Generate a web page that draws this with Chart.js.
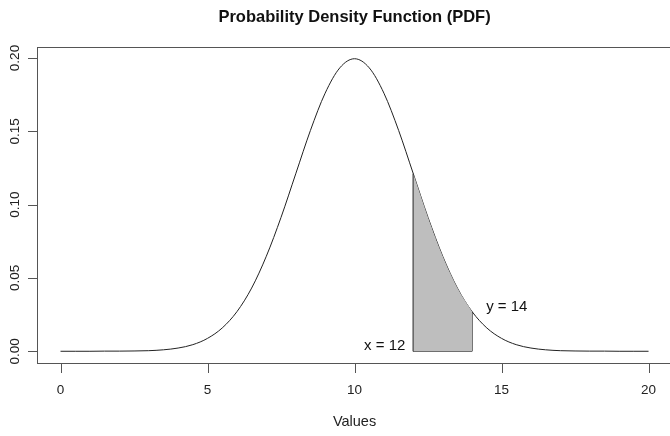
<!DOCTYPE html>
<html>
<head>
<meta charset="utf-8">
<script src="https://cdn.jsdelivr.net/npm/chart.js@4.4.1/dist/chart.umd.min.js"></script>
<style>
  html, body { margin: 0; padding: 0; background: #fff; }
  #wrap { width: 670px; height: 436px; }
</style>
</head>
<body>
<div id="wrap"><canvas id="pdf"></canvas></div>
<script>
// density values, x = 0, 0.5, ..., 20
const xValues = [
  0, 0.5, 1, 1.5, 2, 2.5, 3, 3.5, 4, 4.5, 5, 5.5, 6, 6.5, 7, 7.5, 8, 8.5, 9, 9.5,
  10, 10.5, 11, 11.5, 12, 12.5, 13, 13.5, 14, 14.5, 15, 15.5, 16, 16.5, 17, 17.5, 18, 18.5, 19, 19.5, 20
];
const density = [
  0.0000, 0.0000, 0.0000, 0.0001, 0.0001, 0.0002, 0.0004, 0.0010, 0.0022, 0.0045,
  0.0088, 0.0159, 0.0270, 0.0431, 0.0648, 0.0913, 0.1210, 0.1506, 0.1760, 0.1933,
  0.1995,
  0.1933, 0.1760, 0.1506, 0.1210, 0.0913, 0.0648, 0.0431, 0.0270, 0.0159, 0.0088,
  0.0045, 0.0022, 0.0010, 0.0004, 0.0002, 0.0001, 0.0001, 0.0000, 0.0000, 0.0000
];
const shadeFrom = 12;
const shadeTo = 14;
const xTicks = [0, 5, 10, 15, 20];
const yTicks = [0, 0.05, 0.10, 0.15, 0.20];
const yTickLabels = ['0.00', '0.05', '0.10', '0.15', '0.20'];
const titleText = 'Probability Density Function (PDF)';
const xTitle = 'Values';
const markLabels = [
  { text: 'x = 12', x: 12, y: 0 },
  { text: 'y = 14', x: 14, y: 0.027 }
];

const curve = xValues.map((x, i) => ({ x: x, y: density[i] }));
const shaded = curve.filter(p => p.x >= shadeFrom && p.x <= shadeTo);
const edgeAt = (x) => curve.find(p => p.x === x).y;
const shadeEdges = [
  { x: shadeFrom, y: edgeAt(shadeFrom) },
  { x: shadeFrom, y: 0 },
  { x: shadeTo, y: 0 },
  { x: shadeTo, y: edgeAt(shadeTo) }
];

const FONT = '"Liberation Sans", Arial, Helvetica, sans-serif';

// R-style box, axes and text
const rAxes = {
  id: 'rAxes',
  afterDraw(chart) {
    const { ctx, chartArea: a, scales: { x, y } } = chart;
    ctx.save();
    ctx.strokeStyle = '#555';
    ctx.lineWidth = 1;
    ctx.strokeRect(a.left + 0.5, a.top + 0.5, a.right - a.left + 2, a.bottom - a.top);

    // x axis ticks
    ctx.beginPath();
    xTicks.forEach(v => {
      const px = Math.round(x.getPixelForValue(v)) + 0.5;
      ctx.moveTo(px, a.bottom);
      ctx.lineTo(px, a.bottom + 10);
    });
    // y axis ticks
    yTicks.forEach(v => {
      const py = Math.round(y.getPixelForValue(v)) + 0.5;
      ctx.moveTo(a.left, py);
      ctx.lineTo(a.left - 9, py);
    });
    ctx.stroke();

    ctx.fillStyle = '#222';
    ctx.font = '13.5px ' + FONT;
    ctx.textAlign = 'center';
    ctx.textBaseline = 'middle';
    xTicks.forEach(v => {
      ctx.fillText(String(v), x.getPixelForValue(v), a.bottom + 27);
    });
    yTicks.forEach((v, i) => {
      ctx.save();
      ctx.translate(15, y.getPixelForValue(v));
      ctx.rotate(-Math.PI / 2);
      ctx.fillText(yTickLabels[i], 0, 0);
      ctx.restore();
    });

    ctx.font = '14.5px ' + FONT;
    ctx.fillText(xTitle, x.getPixelForValue(10), 422);

    ctx.font = 'bold 16.5px ' + FONT;
    ctx.fillStyle = '#111';
    ctx.fillText(titleText, x.getPixelForValue(10), 17);

    // labels beside the shaded area
    ctx.font = '15px ' + FONT;
    ctx.fillStyle = '#111';
    ctx.textAlign = 'right';
    ctx.fillText(markLabels[0].text, x.getPixelForValue(markLabels[0].x) - 8, y.getPixelForValue(markLabels[0].y) - 5);
    ctx.textAlign = 'left';
    ctx.fillText(markLabels[1].text, x.getPixelForValue(markLabels[1].x) + 14, y.getPixelForValue(markLabels[1].y) - 5);
    ctx.restore();
  }
};

new Chart(document.getElementById('pdf'), {
  type: 'line',
  data: {
    datasets: [{
      data: shaded,
      borderWidth: 0,
      backgroundColor: '#bebebe',
      fill: 'origin',
      pointRadius: 0,
      cubicInterpolationMode: 'monotone'
    }, {
      data: shadeEdges,
      borderColor: '#222',
      borderWidth: 1,
      fill: false,
      pointRadius: 0,
      tension: 0
    }, {
      data: curve,
      borderColor: '#222',
      borderWidth: 1,
      fill: false,
      pointRadius: 0,
      cubicInterpolationMode: 'monotone'
    }]
  },
  options: {
    responsive: true,
    maintainAspectRatio: false,
    animation: false,
    events: [],
    layout: { padding: { left: 37, top: 47, right: 0, bottom: 73 } },
    plugins: { legend: { display: false }, tooltip: { enabled: false } },
    scales: {
      x: { type: 'linear', min: -0.8, max: 20.73, display: false },
      y: { type: 'linear', min: -0.008, max: 0.2075, display: false }
    }
  },
  plugins: [rAxes]
});
</script>
</body>
</html>
